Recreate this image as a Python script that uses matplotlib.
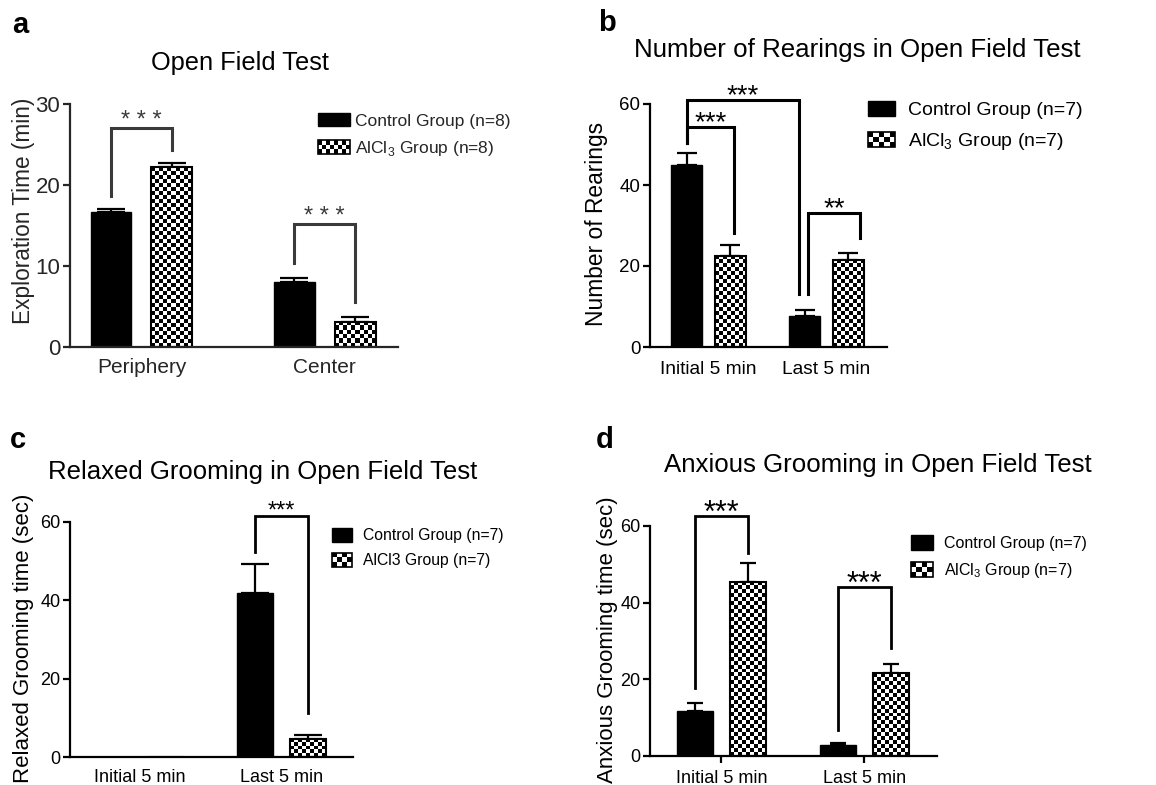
import numpy as np
import matplotlib
matplotlib.use('Agg')
import matplotlib.pyplot as plt
from matplotlib.patches import Patch, Rectangle
from matplotlib.legend_handler import HandlerBase
from matplotlib import transforms

plt.rcParams['font.family'] = ['Liberation Sans', 'DejaVu Sans']
plt.rcParams['mathtext.fontset'] = 'custom'
plt.rcParams['mathtext.rm'] = 'Liberation Sans'

# ---- data ----
groups_a = ['Periphery', 'Center']
ctrl_a = [16.7, 8.0]
ctrl_a_err = [0.35, 0.5]
alcl_a = [22.2, 3.1]
alcl_a_err = [0.5, 0.55]
legend_a = ['Control Group (n=8)', 'AlCl$_3$ Group (n=8)']

groups_b = ['Initial 5 min', 'Last 5 min']
ctrl_b = [45.0, 7.7]
ctrl_b_err = [2.9, 1.4]
alcl_b = [22.5, 21.5]
alcl_b_err = [2.7, 1.6]
legend_b = ['Control Group (n=7)', 'AlCl$_3$ Group (n=7)']

groups_c = ['Initial 5 min', 'Last 5 min']
ctrl_c = [0.0, 42.0]
ctrl_c_err = [0.0, 7.2]
alcl_c = [0.0, 4.6]
alcl_c_err = [0.0, 1.0]
legend_c = ['Control Group (n=7)', 'AlCl3 Group (n=7)']

groups_d = ['Initial 5 min', 'Last 5 min']
ctrl_d = [11.7, 2.9]
ctrl_d_err = [2.1, 0.4]
alcl_d = [45.4, 21.6]
alcl_d_err = [5.0, 2.4]
legend_d = ['Control Group (n=7)', 'AlCl$_3$ Group (n=7)']

# significance brackets: (group, series, nudge) left, right, top, left bottom, right bottom, text
sig_a = [((0, 0, 0), (0, 1, 0), 27.0, 18.6, 24.3, '* * *'),
         ((1, 0, 0), (1, 1, 0), 15.2, 10.4, 5.6, '* * *')]
sig_b = [((0, 0, 0), (1, 0, -0.05), 61.1, 50.3, 13.2, '***'),
         ((0, 0, 0), (0, 1, 0.03), 54.3, 50.3, 28.1, '***'),
         ((1, 0, 0.03), (1, 1, 0.1), 33.1, 13.2, 26.8, '**')]
sig_c = [((1, 0, 0), (1, 1, 0), 61.5, 52.3, 11.2, '***')]
sig_d = [((0, 0, 0), (0, 1, 0), 62.6, 17.7, 53.0, '***'),
         ((1, 0, 0), (1, 1, 0), 44.1, 6.8, 28.2, '***')]

W, H = 1156, 785
fig = plt.figure(figsize=(W / 100, H / 100), dpi=100)


def px_axes(l, t, r, b):
    return fig.add_axes([l / W, 1 - b / H, (r - l) / W, (b - t) / H])


class CheckerHandler(HandlerBase):
    def __init__(self, nx, ny):
        super().__init__()
        self.nx, self.ny = nx, ny

    def create_artists(self, legend, orig_handle, xdescent, ydescent, width, height, fontsize, trans):
        x0, y0 = -xdescent, -ydescent
        arts = [Rectangle((x0, y0), width, height, facecolor='white', edgecolor='none', transform=trans)]
        cw, ch = width / self.nx, height / self.ny
        for i in range(self.nx):
            for j in range(self.ny):
                if (i + j) % 2 == 0:
                    arts.append(Rectangle((x0 + i * cw, y0 + j * ch), cw, ch, facecolor='black',
                                          edgecolor='none', transform=trans))
        arts.append(Rectangle((x0, y0), width, height, facecolor='none', edgecolor='black', lw=1.2, transform=trans))
        return arts


def checker_fill(ax, bars, cell=4.0):
    for bar in bars:
        x, y, w, h = bar.get_x(), bar.get_y(), bar.get_width(), bar.get_height()
        if h <= 0:
            continue
        p0 = ax.transData.transform((x, y))
        p1 = ax.transData.transform((x + w, y + h))
        nx = max(1, int(round((p1[0] - p0[0]) / cell)))
        ny = max(1, int(round((p1[1] - p0[1]) / cell)))
        grid = np.add.outer(np.arange(ny), np.arange(nx)) % 2
        im = ax.imshow(grid, cmap='gray', vmin=0, vmax=1, extent=(x, x + w, y, y + h), origin='lower',
                       aspect='auto', interpolation='nearest', zorder=1.5)
        im.set_clip_path(bar)


def panel(rect, groups, ctrl, ctrl_err, alcl, alcl_err, xlim, ylim, yticks, off, width,
          capsize, sigs, tcolor, tick_fs, xlab_fs, ylab_fs, ylabel, ylab_xy, lw_sig, sig_color, star_fs,
          star_off, xpad, xticks_on):
    ax = px_axes(*rect)
    x = np.arange(len(groups))
    ax.set_xlim(*xlim)
    ax.set_ylim(*ylim)
    ax.bar(x - off, ctrl, width, color='black', edgecolor='black', zorder=2)
    b2 = ax.bar(x + off, alcl, width, facecolor='none', edgecolor='black', linewidth=1.5, zorder=2)
    checker_fill(ax, b2)
    ax.set_xlim(*xlim)
    ax.set_ylim(*ylim)
    for xs, vals, errs in [(x - off, ctrl, ctrl_err), (x + off, alcl, alcl_err)]:
        vals = np.array(vals)
        errs = np.array(errs)
        m = vals > 0
        ax.errorbar(xs[m], vals[m], yerr=[np.zeros(m.sum()), errs[m]], fmt='none', ecolor='black',
                    elinewidth=1.6, capsize=capsize, capthick=1.6, zorder=1)
    offs = [-off, off]
    for (g1, s1, n1), (g2, s2, n2), top, bl, br, txt in sigs:
        xl = g1 + offs[s1] + n1
        xr = g2 + offs[s2] + n2
        ax.plot([xl, xl, xr, xr], [bl, top, top, br], color=sig_color, lw=lw_sig, clip_on=False,
                solid_joinstyle='miter', zorder=3)
        tr = transforms.offset_copy(ax.transData, fig=fig, x=0, y=star_off, units='points')
        ax.text((xl + xr) / 2, top, txt, ha='center', va='center', fontsize=star_fs, color=sig_color,
                transform=tr, clip_on=False)
    for s in ['top', 'right']:
        ax.spines[s].set_visible(False)
    for s in ['left', 'bottom']:
        ax.spines[s].set_linewidth(1.6)
        ax.spines[s].set_color(tcolor)
    ax.set_yticks(yticks)
    ax.set_xticks(x)
    ax.set_xticklabels(groups, fontsize=xlab_fs, color=tcolor)
    for lab in ax.get_yticklabels():
        lab.set_fontsize(tick_fs)
        lab.set_color(tcolor)
    ax.tick_params(axis='y', length=5, width=1.6, pad=2, color=tcolor)
    ax.tick_params(axis='x', length=5 if xticks_on else 0, width=1.6, pad=xpad, color=tcolor)
    ax.set_ylabel(ylabel, fontsize=ylab_fs, color=tcolor)
    ax.yaxis.set_label_coords(*ylab_xy)
    return ax


def legend(ax, labels, x_px, y_px, fs, tcolor, hl, hh, nx, spacing, pad):
    h = [Patch(facecolor='black', edgecolor='black'), Patch(facecolor='white', edgecolor='black')]
    leg = ax.legend(h, labels, loc='upper left', bbox_to_anchor=(x_px / W, 1 - y_px / H),
                    bbox_transform=fig.transFigure, frameon=False, handler_map={h[1]: CheckerHandler(nx, 3)},
                    prop={'size': fs}, borderpad=0, borderaxespad=0, handlelength=hl,
                    handleheight=hh, handletextpad=pad, labelspacing=spacing, labelcolor=tcolor)
    return leg


grey = '#262626'

ax_a = panel((70, 104, 398, 347), groups_a, ctrl_a, ctrl_a_err, alcl_a, alcl_a_err, (-0.39, 1.40), (0, 30),
             [0, 10, 20, 30], 0.166, 0.223, 10, sig_a, grey, 16, 15, 16.3,
             'Exploration Time (min)', (-0.107, 0.56), 2.2, '#3a3a3a', 17, 5, 8, False)
legend(ax_a, legend_a, 318, 113, 12.5, grey, 1.85, 0.8, 8, 0.6, 0.3)

ax_b = panel((650, 104, 887, 347), groups_b, ctrl_b, ctrl_b_err, alcl_b, alcl_b_err, (-0.496, 1.513), (0, 60),
             [0, 20, 40, 60], 0.186, 0.263, 7, sig_b, 'black', 13.5, 13.8, 16.4,
             'Number of Rearings', (-0.177, 0.506), 2.2, 'black', 20, 2.5, 10, False)
legend(ax_b, legend_b, 868, 101, 14, 'black', 1.4, 0.8, 5, 0.6, 0.67)

ax_c = panel((70, 522, 353, 757), groups_c, ctrl_c, ctrl_c_err, alcl_c, alcl_c_err, (-0.495, 1.505), (0, 60),
             [0, 20, 40, 60], 0.187, 0.254, 10, sig_c, 'black', 13, 13, 16,
             'Relaxed Grooming time (sec)', (-0.127, 0.506), 2.0, 'black', 17, 3, 9, False)
legend(ax_c, legend_c, 332, 528, 11.3, 'black', 1.3, 1.0, 4, 0.6, 0.7)

ax_d = panel((650, 526, 937, 756), groups_d, ctrl_d, ctrl_d_err, alcl_d, alcl_d_err, (-0.5, 1.507), (0, 60),
             [0, 20, 40, 60], 0.185, 0.25, 6, sig_d, 'black', 13, 13, 16,
             'Anxious Grooming time (sec)', (-0.111, 0.504), 2.0, 'black', 22, 1.5, 5, True)
legend(ax_d, legend_d, 911, 535, 11.5, 'black', 1.35, 1.1, 4, 0.6, 0.7)

# titles and panel letters
fig.text(240 / W, 1 - 63 / H, 'Open Field Test', ha='center', va='center', fontsize=18.3, color='black')
fig.text(857 / W, 1 - 50 / H, 'Number of Rearings in Open Field Test', ha='center', va='center', fontsize=18.6)
fig.text(263 / W, 1 - 472 / H, 'Relaxed Grooming in Open Field Test', ha='center', va='center', fontsize=18.5)
fig.text(878 / W, 1 - 465 / H, 'Anxious Grooming in Open Field Test', ha='center', va='center', fontsize=18.6)
for lx, ly, lt in [(20, 25, 'a'), (607, 23, 'b'), (18, 440, 'c'), (605, 440, 'd')]:
    fig.text(lx / W, 1 - ly / H, lt, ha='center', va='center', fontsize=21, fontweight='bold')

fig.savefig('out.png', dpi=100, facecolor='white')
